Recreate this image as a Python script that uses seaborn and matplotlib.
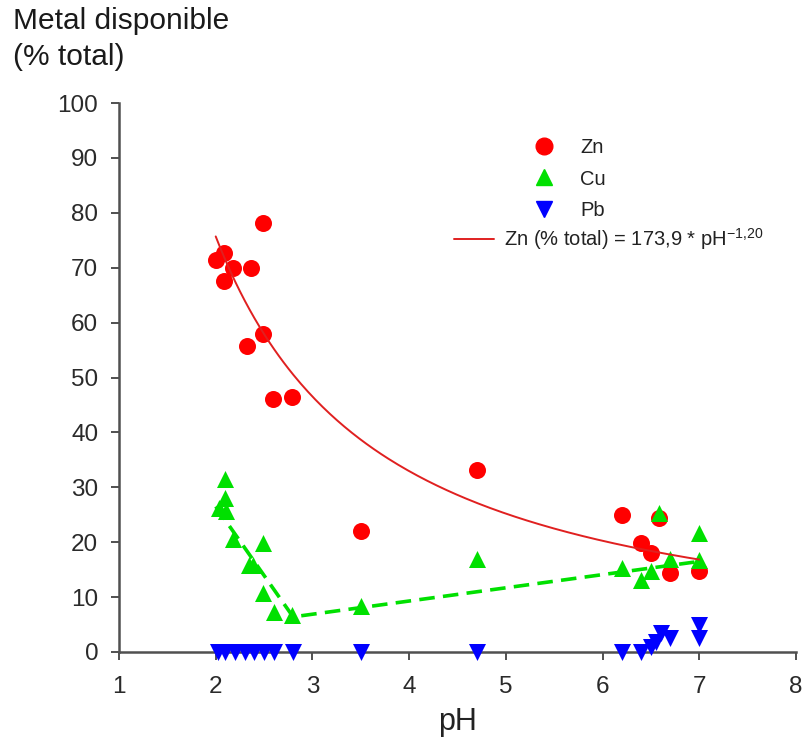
import numpy as np
import pandas as pd
import matplotlib
matplotlib.use("Agg")
import matplotlib.pyplot as plt
from matplotlib.lines import Line2D
import seaborn as sns

# ---- data ----
zn_ph = [2.0, 2.09, 2.09, 2.18, 2.32, 2.36, 2.49, 2.49, 2.59, 2.79, 3.5, 4.7, 6.2, 6.4, 6.5, 6.58, 6.7, 7.0]
zn_val = [71.4, 72.6, 67.6, 70.0, 55.8, 69.9, 78.2, 58.0, 46.0, 46.5, 22.0, 33.2, 25.0, 19.8, 18.0, 24.4, 14.4, 14.8]

cu_ph = [2.03, 2.10, 2.10, 2.11, 2.18, 2.34, 2.39, 2.49, 2.49, 2.60, 2.79, 3.5, 4.7, 6.2, 6.4, 6.5, 6.58, 6.7, 7.0, 7.0]
cu_val = [26.2, 31.5, 28.0, 25.6, 20.5, 15.8, 15.8, 19.9, 10.7, 7.3, 6.7, 8.4, 16.9, 15.3, 13.2, 14.8, 25.4, 17.0, 21.7, 16.8]

pb_ph = [2.02, 2.1, 2.2, 2.3, 2.4, 2.5, 2.6, 2.8, 3.5, 4.7, 6.2, 6.4, 6.5, 6.55, 6.6, 6.7, 7.0, 7.0]
pb_val = [0, 0, 0, 0, 0, 0, 0, 0, 0, 0, 0, 0, 1.0, 1.9, 3.5, 2.6, 5.0, 2.5]

# Zn power-law fit shown in legend: Zn = 173.9 * pH^-1.20
zn_fit_a = 173.9
zn_fit_b = -1.20
zn_fit_range = [2.0, 7.0]

# Cu piecewise-linear trend (breakpoints)
cu_fit_ph = [2.0, 2.8, 7.0]
cu_fit_val = [26.5, 6.4, 16.5]

x_ticks = [1, 2, 3, 4, 5, 6, 7, 8]
y_ticks = [0, 10, 20, 30, 40, 50, 60, 70, 80, 90, 100]

labels = ["Zn", "Cu", "Pb"]
fit_label = r"Zn (% total) = 173,9 * pH$^{\mathregular{-1{,}20}}$"
y_title = "Metal disponible\n(% total)"
x_title = "pH"

# ---- style ----
sns.set_style("white")
plt.rcParams["font.family"] = ["Liberation Sans", "DejaVu Sans"]

fig = plt.figure(figsize=(8.04, 7.43), dpi=100)
ax = fig.add_axes([119 / 804, 91 / 743, (796 - 119) / 804, (652 - 103) / 743])

zn_df = pd.DataFrame({"pH": zn_ph, "val": zn_val})
cu_df = pd.DataFrame({"pH": cu_ph, "val": cu_val})
pb_df = pd.DataFrame({"pH": pb_ph, "val": pb_val})

fit_x = np.linspace(zn_fit_range[0], zn_fit_range[1], 200)
fit_df = pd.DataFrame({"pH": fit_x, "val": zn_fit_a * fit_x ** zn_fit_b})
cu_fit_df = pd.DataFrame({"pH": cu_fit_ph, "val": cu_fit_val})

RED, GREEN, BLUE = "#FF0000", "#00E000", "#0000FF"

sns.scatterplot(data=zn_df, x="pH", y="val", ax=ax, color=RED, marker="o",
                s=150, linewidth=0, zorder=3, clip_on=False)
sns.scatterplot(data=cu_df, x="pH", y="val", ax=ax, color=GREEN, marker="^",
                s=150, linewidth=0, zorder=4, clip_on=False)
sns.scatterplot(data=pb_df, x="pH", y="val", ax=ax, color=BLUE, marker="v",
                s=150, linewidth=0, zorder=5, clip_on=False)
sns.lineplot(data=fit_df, x="pH", y="val", ax=ax, color="#E02020", lw=1.4,
             zorder=6, sort=False)
sns.lineplot(data=cu_fit_df, x="pH", y="val", ax=ax, color=GREEN, lw=2.6,
             zorder=6, sort=False, dashes=False)
ax.lines[-1].set_dashes([4.3, 2.3])

ax.set_xlim(1, 8)
ax.set_ylim(0, 100)
ax.set_xticks(x_ticks)
ax.set_yticks(y_ticks)
ax.set_xticklabels([str(v) for v in x_ticks])
ax.set_yticklabels([str(v) for v in y_ticks])

for side in ["top", "right"]:
    ax.spines[side].set_visible(False)
for side in ["left", "bottom"]:
    ax.spines[side].set_color("#505050")
    ax.spines[side].set_linewidth(1.8)

ax.tick_params(axis="both", which="major", direction="out", length=6, width=1.4,
               color="#505050", labelsize=17.5, labelcolor="#2a2a2a")
ax.tick_params(axis="y", pad=9, left=True)
ax.tick_params(axis="x", pad=11, bottom=True)

ax.set_xlabel(x_title, fontsize=22, color="#222222", labelpad=7)
ax.set_ylabel("")

fig.text(13 / 804, 1 - 7 / 743, y_title, ha="left", va="top", fontsize=21.5,
         color="#1a1a1a", linespacing=1.35)

# legends
h_markers = [
    Line2D([], [], linestyle="none", marker="o", markersize=12, color=RED),
    Line2D([], [], linestyle="none", marker="^", markersize=12, color=GREEN),
    Line2D([], [], linestyle="none", marker="v", markersize=12, color=BLUE),
]
leg1 = ax.legend(h_markers, labels, loc="upper left",
                 bbox_to_anchor=((520 - 119) / 677, (652 - 130) / 549),
                 frameon=False, fontsize=14.5, handlelength=1.6, handletextpad=1.0,
                 labelspacing=0.62, borderaxespad=0)
ax.add_artist(leg1)
h_line = [Line2D([], [], color="#E02020", lw=1.4)]
leg2 = ax.legend(h_line, [fit_label], loc="upper left",
                 bbox_to_anchor=((446 - 119) / 677, (652 - 218) / 549),
                 frameon=False, fontsize=14.5, handlelength=2.0, handletextpad=0.5,
                 borderaxespad=0)
for t in leg1.get_texts() + leg2.get_texts():
    t.set_color("#222222")

fig.savefig("out.png", dpi=100)
